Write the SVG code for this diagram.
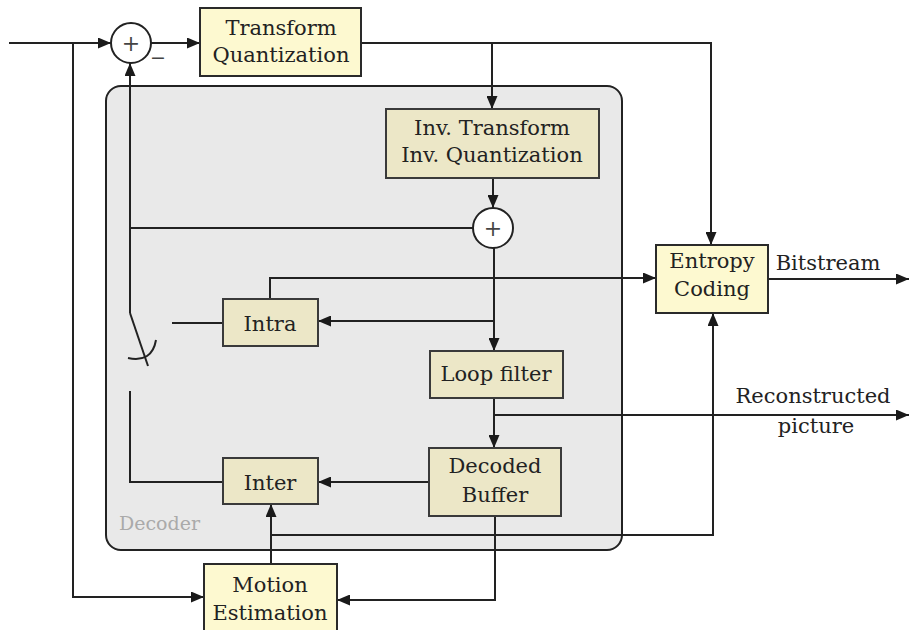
<svg xmlns="http://www.w3.org/2000/svg" width="911" height="630" viewBox="0 0 911 630">
<defs>
<marker id="ah" markerUnits="userSpaceOnUse" markerWidth="13" markerHeight="11" refX="13" refY="5.5" orient="auto">
<path d="M0,0 L13,5.5 L0,11 z" fill="#1a1a1a"/>
</marker>
<style>
.t{font-size:21px;fill:#222;text-anchor:middle}
.outer{fill:#fdf9d0;stroke:#2a2a2a;stroke-width:2}
.inner{fill:#ece7c7;stroke:#3a3a3a;stroke-width:2}
.c{fill:none;stroke:#222;stroke-width:2}
.a{marker-end:url(#ah)}
.sum{fill:#fff;stroke:#222;stroke-width:2}
.dec{fill:#e9e9e9;stroke:#222;stroke-width:2}
</style>
</defs>
<g font-family="DejaVu Serif, Liberation Serif, serif">
<rect id="decoder" class="dec" x="106" y="86" width="516" height="464" rx="15"/>
<text x="119" y="530" font-size="19" fill="#aaa">Decoder</text>
<g id="connectors">
<path class="c a" d="M9,43 H111"/>
<path class="c a" d="M151,43 H200"/>
<path class="c a" d="M361,43 H711 V245"/>
<path class="c a" d="M492,43 V109"/>
<path class="c a" d="M493,178 V208"/>
<path class="c" d="M473,228 H130"/>
<path class="c a" d="M130,313 V63"/>
<path class="c" d="M130,313 L148,366"/>
<path class="c" d="M128,358 Q152,363 156,340"/>
<path class="c" d="M172,323 H223"/>
<path class="c" d="M130,391 V482 H223"/>
<path class="c a" d="M494,248 V351"/>
<path class="c a" d="M494,321 H318"/>
<path class="c a" d="M270,299 V278 H656"/>
<path class="c a" d="M494,398 V448"/>
<path class="c a" d="M494,415 H909"/>
<path class="c a" d="M429,482 H318"/>
<path class="c a" d="M495,516 V600 H337"/>
<path class="c a" d="M271,564 V504"/>
<path class="c a" d="M271,535 H713 V313"/>
<path class="c a" d="M768,279 H909"/>
<path class="c a" d="M73,43 V597 H204"/>
</g>
<g id="sum1">
<circle class="sum" cx="131" cy="43" r="20"/>
<text x="131" y="51" font-size="22" fill="#444" text-anchor="middle">+</text>
<text x="158" y="64" font-size="19" fill="#444" text-anchor="middle">−</text>
</g>
<g id="transform">
<rect class="outer" x="200" y="8" width="161" height="68"/>
<text class="t" x="281" y="35">Transform</text>
<text class="t" x="281" y="62">Quantization</text>
</g>
<g id="invtransform">
<rect class="inner" x="386" y="109" width="213" height="69"/>
<text class="t" x="492" y="135">Inv. Transform</text>
<text class="t" x="492" y="162">Inv. Quantization</text>
</g>
<g id="sum2">
<circle class="sum" cx="493" cy="228" r="20"/>
<text x="493" y="236" font-size="22" fill="#444" text-anchor="middle">+</text>
</g>
<g id="entropy">
<rect class="outer" x="656" y="245" width="112" height="68"/>
<text class="t" x="712" y="268">Entropy</text>
<text class="t" x="712" y="296">Coding</text>
</g>
<text class="t" x="828" y="270">Bitstream</text>
<text class="t" x="813" y="403">Reconstructed</text>
<text class="t" x="816" y="433">picture</text>
<g id="intra">
<rect class="inner" x="223" y="299" width="95" height="47"/>
<text class="t" x="270" y="331">Intra</text>
</g>
<g id="loopfilter">
<rect class="inner" x="430" y="351" width="133" height="47"/>
<text class="t" x="496" y="381">Loop filter</text>
</g>
<g id="decodedbuffer">
<rect class="inner" x="429" y="448" width="132" height="68"/>
<text class="t" x="495" y="473">Decoded</text>
<text class="t" x="495" y="502">Buffer</text>
</g>
<g id="inter">
<rect class="inner" x="223" y="458" width="95" height="46"/>
<text class="t" x="270" y="490">Inter</text>
</g>
<g id="motion">
<rect class="outer" x="204" y="564" width="133" height="72"/>
<text class="t" x="270" y="592">Motion</text>
<text class="t" x="270" y="620">Estimation</text>
</g>
</g>
</svg>
